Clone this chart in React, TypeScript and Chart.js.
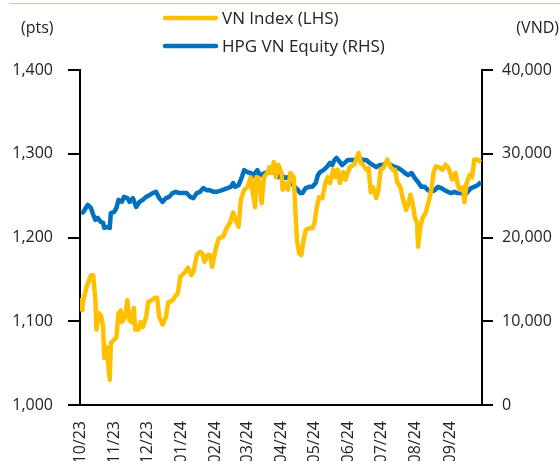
import React, { useEffect, useRef } from "react";
import { Chart, registerables } from "chart.js";

Chart.register(...registerables);

const FONT = "'Open Sans', 'Noto Sans', sans-serif";

const xTickDates = [
  "2023-10-01", "2023-11-01", "2023-12-01", "2024-01-01", "2024-02-01", "2024-03-01",
  "2024-04-01", "2024-05-01", "2024-06-01", "2024-07-01", "2024-08-01", "2024-09-01",
];
const xTickLabels = ["10/23", "11/23", "12/23", "01/24", "02/24", "03/24", "04/24", "05/24", "06/24", "07/24", "08/24", "09/24"];
const xStart = "2023-10-01";
const xEnd = "2024-09-30";

const leftTicks = [1000, 1100, 1200, 1300, 1400];
const rightTicks = [0, 10000, 20000, 30000, 40000];

const vnDates = [
  "2023-10-02", "2023-10-03", "2023-10-04", "2023-10-07", "2023-10-11", "2023-10-13", "2023-10-15", "2023-10-16",
  "2023-10-18", "2023-10-20", "2023-10-22", "2023-10-23", "2023-10-25", "2023-10-26", "2023-10-28", "2023-10-29",
  "2023-11-01", "2023-11-03", "2023-11-05", "2023-11-07", "2023-11-08", "2023-11-11", "2023-11-13", "2023-11-15",
  "2023-11-17", "2023-11-19", "2023-11-20", "2023-11-23", "2023-11-25", "2023-11-27", "2023-11-30", "2023-12-02",
  "2023-12-05", "2023-12-08", "2023-12-10", "2023-12-12", "2023-12-15", "2023-12-18", "2023-12-20", "2023-12-24",
  "2023-12-27", "2023-12-29", "2023-12-31", "2024-01-04", "2024-01-07", "2024-01-10", "2024-01-12", "2024-01-15",
  "2024-01-18", "2024-01-20", "2024-01-22", "2024-01-25", "2024-01-27", "2024-01-29", "2024-02-01", "2024-02-04",
  "2024-02-08", "2024-02-11", "2024-02-14", "2024-02-17", "2024-02-19", "2024-02-22", "2024-02-24", "2024-02-27",
  "2024-03-01", "2024-03-04", "2024-03-06", "2024-03-08", "2024-03-09", "2024-03-11", "2024-03-14", "2024-03-16",
  "2024-03-19", "2024-03-21", "2024-03-23", "2024-03-25", "2024-03-27", "2024-03-29", "2024-04-01", "2024-04-02",
  "2024-04-04", "2024-04-07", "2024-04-09", "2024-04-12", "2024-04-14", "2024-04-15", "2024-04-17", "2024-04-19",
  "2024-04-21", "2024-04-23", "2024-04-26", "2024-04-29", "2024-05-01", "2024-05-03", "2024-05-05", "2024-05-08",
  "2024-05-11", "2024-05-13", "2024-05-15", "2024-05-18", "2024-05-20", "2024-05-22", "2024-05-24", "2024-05-27",
  "2024-05-29", "2024-05-31", "2024-06-02", "2024-06-06", "2024-06-10", "2024-06-12", "2024-06-14", "2024-06-17",
  "2024-06-19", "2024-06-21", "2024-06-23", "2024-06-26", "2024-06-28", "2024-06-30", "2024-07-03", "2024-07-06",
  "2024-07-09", "2024-07-11", "2024-07-13", "2024-07-15", "2024-07-18", "2024-07-20", "2024-07-23", "2024-07-25",
  "2024-07-27", "2024-07-29", "2024-07-31", "2024-08-02", "2024-08-03", "2024-08-05", "2024-08-07", "2024-08-10",
  "2024-08-13", "2024-08-15", "2024-08-17", "2024-08-19", "2024-08-22", "2024-08-25", "2024-08-28", "2024-08-30",
  "2024-09-01", "2024-09-03", "2024-09-06", "2024-09-08", "2024-09-10", "2024-09-13", "2024-09-14", "2024-09-16",
  "2024-09-19", "2024-09-21", "2024-09-23", "2024-09-26", "2024-09-29",
];
const vnValues = [
  1128, 1113, 1125, 1141, 1155, 1155, 1125, 1090,
  1110, 1107, 1093, 1056, 1069, 1057, 1030, 1074,
  1078, 1081, 1110, 1113, 1099, 1105, 1125, 1101,
  1099, 1116, 1090, 1090, 1099, 1093, 1105, 1123,
  1125, 1128, 1128, 1105, 1096, 1105, 1122, 1125,
  1131, 1134, 1153, 1158, 1164, 1155, 1159, 1179,
  1183, 1181, 1171, 1179, 1179, 1165, 1185, 1199,
  1201, 1211, 1217, 1230, 1221, 1213, 1245, 1257,
  1260, 1272, 1253, 1236, 1272, 1271, 1241, 1272,
  1277, 1284, 1277, 1290, 1272, 1287, 1277, 1257,
  1265, 1257, 1277, 1272, 1221, 1197, 1181, 1179,
  1197, 1209, 1211, 1211, 1218, 1236, 1248, 1247,
  1266, 1272, 1265, 1281, 1272, 1281, 1265, 1278,
  1269, 1277, 1284, 1287, 1301, 1289, 1287, 1281,
  1283, 1254, 1260, 1247, 1257, 1281, 1284, 1293,
  1284, 1281, 1281, 1266, 1260, 1247, 1233, 1239,
  1251, 1241, 1224, 1217, 1189, 1213, 1223, 1230,
  1245, 1257, 1277, 1285, 1284, 1281, 1287, 1284,
  1278, 1269, 1277, 1263, 1257, 1260, 1242, 1265,
  1275, 1272, 1293, 1293, 1290,
];

const hpgDates = [
  "2023-10-02", "2023-10-04", "2023-10-08", "2023-10-11", "2023-10-13", "2023-10-15", "2023-10-17", "2023-10-20",
  "2023-10-22", "2023-10-23", "2023-10-26", "2023-10-28", "2023-10-29", "2023-11-01", "2023-11-03", "2023-11-05",
  "2023-11-08", "2023-11-10", "2023-11-13", "2023-11-15", "2023-11-18", "2023-11-21", "2023-11-24", "2023-11-27",
  "2023-11-30", "2023-12-03", "2023-12-06", "2023-12-09", "2023-12-12", "2023-12-15", "2023-12-18", "2023-12-21",
  "2023-12-24", "2023-12-27", "2023-12-30", "2024-01-03", "2024-01-06", "2024-01-09", "2024-01-12", "2024-01-15",
  "2024-01-18", "2024-01-21", "2024-01-24", "2024-01-27", "2024-01-30", "2024-02-02", "2024-02-07", "2024-02-12",
  "2024-02-15", "2024-02-17", "2024-02-19", "2024-02-22", "2024-02-25", "2024-02-27", "2024-03-01", "2024-03-04",
  "2024-03-05", "2024-03-08", "2024-03-10", "2024-03-11", "2024-03-14", "2024-03-17", "2024-03-20", "2024-03-23",
  "2024-03-26", "2024-03-29", "2024-04-01", "2024-04-04", "2024-04-07", "2024-04-10", "2024-04-13", "2024-04-16",
  "2024-04-18", "2024-04-20", "2024-04-23", "2024-04-26", "2024-04-29", "2024-05-02", "2024-05-04", "2024-05-06",
  "2024-05-09", "2024-05-12", "2024-05-15", "2024-05-17", "2024-05-19", "2024-05-21", "2024-05-24", "2024-05-26",
  "2024-05-29", "2024-05-31", "2024-06-02", "2024-06-06", "2024-06-11", "2024-06-14", "2024-06-17", "2024-06-20",
  "2024-06-23", "2024-06-26", "2024-06-29", "2024-07-02", "2024-07-06", "2024-07-09", "2024-07-13", "2024-07-16",
  "2024-07-19", "2024-07-22", "2024-07-25", "2024-07-28", "2024-07-31", "2024-08-03", "2024-08-06", "2024-08-09",
  "2024-08-12", "2024-08-15", "2024-08-18", "2024-08-21", "2024-08-24", "2024-08-27", "2024-08-30", "2024-09-02",
  "2024-09-05", "2024-09-08", "2024-09-11", "2024-09-14", "2024-09-17", "2024-09-20", "2024-09-23", "2024-09-26",
  "2024-09-29",
];
const hpgValues = [
  22900, 23050, 23900, 23500, 22700, 22100, 22350, 21850,
  21750, 21150, 21250, 21150, 22900, 23050, 23500, 24500,
  24250, 24850, 24700, 24250, 24700, 23650, 24250, 24500,
  24850, 25050, 25300, 25450, 24700, 24250, 24700, 24850,
  25300, 25450, 25300, 25300, 25300, 24850, 24700, 25300,
  25450, 25900, 25650, 25650, 25450, 25450, 25650, 25900,
  26050, 26500, 26050, 26250, 27200, 28050, 27800, 27700,
  27200, 27700, 28050, 27700, 27450, 27700, 27800, 27800,
  27700, 27200, 27450, 27100, 27200, 26500, 26050, 25650,
  25300, 25300, 25900, 26050, 26050, 26500, 27450, 27800,
  28050, 28400, 28900, 28650, 29250, 29500, 29000, 28650,
  29000, 29250, 29250, 29250, 29500, 29250, 29250, 28900,
  28650, 28400, 28650, 28650, 29000, 28650, 28400, 28300,
  28050, 27700, 27450, 27700, 27100, 26600, 26050, 26050,
  25650, 25450, 25650, 26050, 25900, 25650, 25450, 25300,
  25450, 25300, 25300, 25050, 25450, 25900, 26050, 26250,
  26600,
];

const seriesNames = ["VN Index (LHS)", "HPG VN Equity (RHS)"];
const seriesColors = ["#FFC000", "#0070C0"];
const unitLeft = "(pts)";
const unitRight = "(VND)";

function dayOf(s: string): number {
  const [y, m, d] = s.split("-").map(Number);
  const [y0, m0, d0] = xStart.split("-").map(Number);
  return Math.round((Date.UTC(y, m - 1, d) - Date.UTC(y0, m0 - 1, d0)) / 86400000);
}

const decorPlugin = {
  id: "decor",
  afterDraw(chart: any) {
    const ctx = chart.ctx;
    ctx.save();
    // top rule
    ctx.strokeStyle = "#a8d3ef";
    ctx.lineWidth = 1;
    ctx.beginPath();
    ctx.moveTo(9, 3.5);
    ctx.lineTo(560, 3.5);
    ctx.stroke();

    ctx.fillStyle = "#222";
    ctx.textBaseline = "middle";
    // legend
    ctx.font = `17px ${FONT}`;
    const rows = [18, 46];
    seriesNames.forEach((name, i) => {
      ctx.strokeStyle = seriesColors[i];
      ctx.lineWidth = 4.5;
      ctx.lineCap = "round";
      ctx.beginPath();
      ctx.moveTo(165, rows[i]);
      ctx.lineTo(216, rows[i]);
      ctx.stroke();
      ctx.textAlign = "left";
      ctx.fillText(name, 222, rows[i] + 1);
    });
    // units
    ctx.font = `16px ${FONT}`;
    ctx.textAlign = "left";
    ctx.fillText(unitLeft, 21, 28);
    ctx.textAlign = "right";
    ctx.fillText(unitRight, 559, 28);
    ctx.restore();
  },
};

export default function App() {
  const ref = useRef<HTMLCanvasElement | null>(null);

  useEffect(() => {
    if (!ref.current) return;
    const vnData = vnDates.map((d, i) => ({ x: dayOf(d), y: vnValues[i] }));
    const hpgData = hpgDates.map((d, i) => ({ x: dayOf(d), y: hpgValues[i] }));
    const tickDays = xTickDates.map(dayOf);

    const chart = new Chart(ref.current, {
      type: "line",
      data: {
        datasets: [
          {
            label: seriesNames[0],
            data: vnData,
            borderColor: seriesColors[0],
            backgroundColor: seriesColors[0],
            borderWidth: 4.5,
            pointRadius: 0,
            tension: 0,
            yAxisID: "yL",
            borderJoinStyle: "round",
          },
          {
            label: seriesNames[1],
            data: hpgData,
            borderColor: seriesColors[1],
            backgroundColor: seriesColors[1],
            borderWidth: 4.5,
            pointRadius: 0,
            tension: 0,
            yAxisID: "yR",
            borderJoinStyle: "round",
          },
        ],
      },
      options: {
        animation: false,
        responsive: true,
        maintainAspectRatio: false,
        layout: { padding: { top: 70, left: 0, right: 0, bottom: 0 } },
        plugins: { legend: { display: false }, tooltip: { enabled: false } },
        scales: {
          x: {
            type: "linear",
            min: dayOf(xStart),
            max: dayOf(xEnd),
            afterBuildTicks: (scale: any) => {
              scale.ticks = tickDays.map((v) => ({ value: v }));
            },
            afterFit: (scale: any) => {
              scale.height = 56;
            },
            grid: { display: true, drawOnChartArea: false, drawTicks: false },
            border: { display: true, color: "#000", width: 2 },
            ticks: {
              autoSkip: false,
              maxRotation: 90,
              minRotation: 90,
              padding: 16,
              color: "#222",
              font: { family: FONT, size: 16 },
              callback: (_v: any, i: number) => xTickLabels[i],
            },
          },
          yL: {
            type: "linear",
            position: "left",
            min: leftTicks[0],
            max: leftTicks[leftTicks.length - 1],
            afterBuildTicks: (scale: any) => {
              scale.ticks = leftTicks.map((v) => ({ value: v }));
            },
            afterFit: (scale: any) => {
              scale.width = 80;
            },
            grid: { display: true, drawOnChartArea: false, drawTicks: true, tickLength: 12, color: "#000", lineWidth: 2 },
            border: { display: true, color: "#000", width: 2 },
            ticks: {
              padding: 15,
              color: "#222",
              font: { family: FONT, size: 16 },
              callback: (v: any) => Number(v).toLocaleString("en-US"),
            },
          },
          yR: {
            type: "linear",
            position: "right",
            min: rightTicks[0],
            max: rightTicks[rightTicks.length - 1],
            afterBuildTicks: (scale: any) => {
              scale.ticks = rightTicks.map((v) => ({ value: v }));
            },
            afterFit: (scale: any) => {
              scale.width = 78;
            },
            grid: { display: true, drawOnChartArea: false, drawTicks: true, tickLength: 11, color: "#000", lineWidth: 2 },
            border: { display: true, color: "#000", width: 2 },
            ticks: {
              padding: 9,
              color: "#222",
              font: { family: FONT, size: 16 },
              callback: (v: any) => Number(v).toLocaleString("en-US"),
            },
          },
        },
      },
      plugins: [decorPlugin],
    } as any);

    return () => chart.destroy();
  }, []);

  return (
    <div style={{ position: "fixed", left: 0, top: 0, width: 560, height: 461, background: "#fff" }}>
      <canvas ref={ref} />
    </div>
  );
}
